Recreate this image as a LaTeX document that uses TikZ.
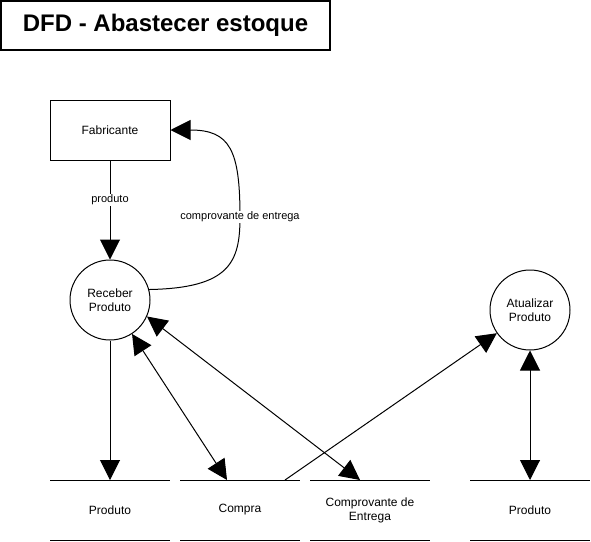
\documentclass[tikz,border=0pt]{standalone}
\usepackage{fontspec}
\setmainfont{Liberation Sans}
\usetikzlibrary{arrows.meta}
\begin{document}
\begin{tikzpicture}[x=1pt,y=-1pt,line width=1pt,
  process/.style={circle,draw,minimum size=80pt,inner sep=0pt,align=center,font=\fontsize{12}{14}\selectfont},
  entity/.style={rectangle,draw,minimum width=120pt,minimum height=60pt,font=\fontsize{12}{14}\selectfont},
  store/.style={minimum width=120pt,minimum height=60pt,inner sep=0pt,outer sep=0pt,align=center,font=\fontsize{12}{14}\selectfont},
  flow/.style={draw,-{Triangle[length=20pt,width=20pt]}},
  both flow/.style={draw,{Triangle[length=20pt,width=20pt]}-{Triangle[length=20pt,width=20pt]}},
  flow label/.style={fill=white,inner sep=1pt,font=\fontsize{11}{13}\selectfont}]
\useasboundingbox (0,0) rectangle (591,541);
\node (title)[draw,line width=1.5pt,minimum width=329pt,minimum height=49pt,font=\fontsize{24}{28}\selectfont\bfseries] at (165.5,25.5) {DFD - Abastecer estoque};
\node (fab)[entity] at (110,130) {Fabricante};
\node (rp)[process] at (110,300) {Receber\\Produto};
\node (ap)[process] at (530,310) {Atualizar\\Produto};
\node (prod)[store] at (110,510) {Produto};
\node (compra)[store] at (240,510) {Compra};
\node (comp)[store] at (370,510) {Comprovante de\\Entrega};
\node (prodb)[store] at (530,510) {Produto};
\foreach \s in {prod,compra,comp,prodb}
  \draw (\s.north west) -- (\s.north east) (\s.south west) -- (\s.south east);
\coordinate (bend) at (240,217);
\draw[flow] (fab.south) -- node[flow label,pos=0.4] {produto} (rp.north);
\draw[flow] (rp.15) .. controls (230,288) and (240,262) .. (bend) node[flow label] {comprovante de entrega} .. controls (240,150) and (230,130) .. (fab.east);
\draw[flow] (rp.south) -- (prod.north);
\draw[both flow] (rp.-57) -- ([xshift=-13pt]compra.north);
\draw[both flow] (rp.-24) -- ([xshift=-10pt]comp.north);
\draw[flow] ([xshift=45pt]compra.north) -- (ap.215);
\draw[both flow] (ap.south) -- (prodb.north);
\end{tikzpicture}
\end{document}
